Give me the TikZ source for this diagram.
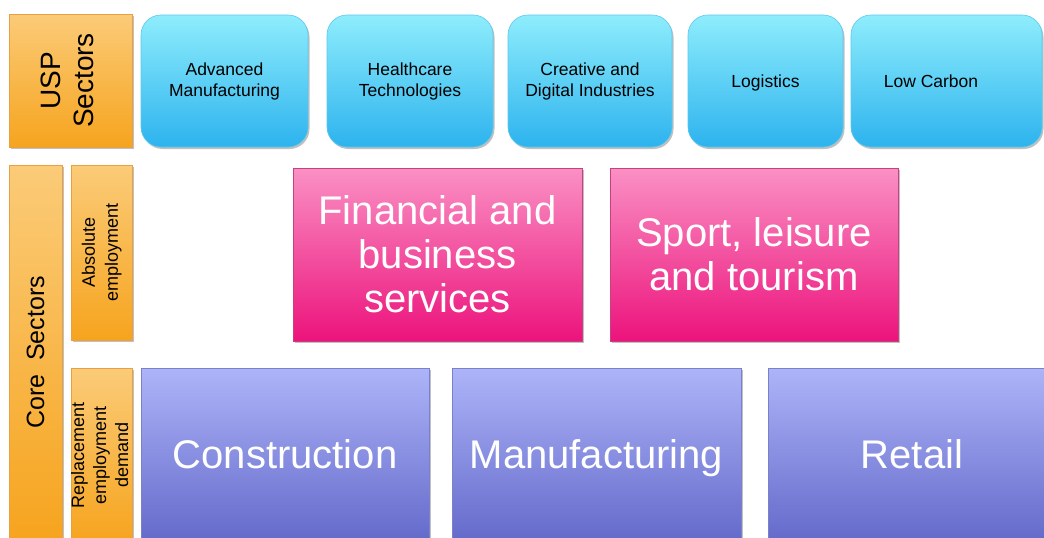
\documentclass[tikz,border=0pt]{standalone}
\usepackage{fontspec}
\setmainfont{Liberation Sans}
\usetikzlibrary{shadows}
\newcommand{\vtext}[1]{\makebox[0pt]{\rotatebox{90}{#1}}}
\begin{document}
\begin{tikzpicture}[x=1pt,y=-1pt,
  box/.style={inner sep=0pt, align=center,
    drop shadow={shadow xshift=1.5pt, shadow yshift=-2pt, opacity=0.35, fill=black!70}},
  orangebox/.style={box, shading=axis, top color=orTop, bottom color=orBot, draw=orEdge, line width=0.6pt},
  bluebox/.style={box, rounded corners=20pt, shading=axis, top color=blTop, bottom color=blBot, draw=blEdge, line width=0.6pt, text=black},
  pinkbox/.style={box, shading=axis, top color=pkTop, bottom color=pkBot, draw=pkEdge, line width=0.6pt, text=white},
  purplebox/.style={box, shading=axis, top color=puTop, bottom color=puBot, draw=puEdge, line width=0.6pt, text=white},
  smalltxt/.style={font=\fontsize{17.5}{21}\selectfont},
  bigtxt/.style={font=\fontsize{40}{44}\selectfont},
]
\definecolor{orTop}{HTML}{FBCB78}
\definecolor{orBot}{HTML}{F6A41E}
\definecolor{orEdge}{HTML}{E8A040}
\definecolor{blTop}{HTML}{8EEDFC}
\definecolor{blBot}{HTML}{2DB3EE}
\definecolor{blEdge}{HTML}{5CC8EE}
\definecolor{pkTop}{HTML}{FA90C4}
\definecolor{pkBot}{HTML}{EC137C}
\definecolor{pkEdge}{HTML}{C8407F}
\definecolor{puTop}{HTML}{AEB4F8}
\definecolor{puBot}{HTML}{6167C8}
\definecolor{puEdge}{HTML}{7B80C8}

\clip (0,0) rectangle (1044,538);
\fill[white] (0,0) rectangle (1044,538);

% orange category boxes
\node[orangebox, minimum width=123pt, minimum height=133pt] (usp) at (70.5,80.5)
  {\vtext{\fontsize{28}{34}\selectfont\begin{tabular}{@{}c@{}}USP\\[-1pt]Sectors\end{tabular}}};
\node[orangebox, minimum width=53pt, minimum height=375pt] (core) at (35.5,352.5)
  {\vtext{\fontsize{25}{30}\selectfont Core\ \ Sectors}};
\node[orangebox, minimum width=61pt, minimum height=175pt] (abs) at (101.5,252.5)
  {\vtext{\fontsize{18}{24}\selectfont\begin{tabular}{@{}c@{}}Absolute\\[-1pt]employment\end{tabular}}};
\node[orangebox, minimum width=61pt, minimum height=174pt] (repl) at (101.5,455)
  {\vtext{\fontsize{18}{23}\selectfont\begin{tabular}{@{}c@{}}Replacement\\[-1pt]employment\\[-1pt]demand\end{tabular}}};

% USP sectors (blue)
\node[bluebox, smalltxt, minimum width=167pt, minimum height=132pt] (adv) at (224.5,81) {Advanced\\Manufacturing};
\node[bluebox, smalltxt, minimum width=166pt, minimum height=132pt] (hlt) at (410,81) {Healthcare\\Technologies};
\node[bluebox, smalltxt, minimum width=164pt, minimum height=132pt] (cre) at (590,81) {Creative and\\Digital Industries};
\node[bluebox, minimum width=155pt, minimum height=132pt] (log) at (765.5,81) {};
\node[smalltxt, inner sep=0pt, text=black, anchor=base] (logt) at (765.5,87) {Logistics};
\node[bluebox, minimum width=191pt, minimum height=132pt] (lowc) at (946.5,81) {};
\node[smalltxt, inner sep=0pt, text=black, anchor=base] (lowct) at (931,87) {Low Carbon};

% absolute employment (pink)
\node[pinkbox, bigtxt, minimum width=289pt, minimum height=173pt] (fin) at (437.5,254.5) {Financial and\\business\\services};
\node[pinkbox, bigtxt, minimum width=288pt, minimum height=173pt] (spt) at (754,254.5) {Sport, leisure\\and tourism};

% replacement demand (purple)
\node[purplebox, minimum width=288pt, minimum height=180pt] (con) at (285,458) {};
\node[purplebox, minimum width=289pt, minimum height=180pt] (man) at (596.5,458) {};
\node[purplebox, minimum width=288pt, minimum height=180pt] (ret) at (912,458) {};
\node[bigtxt, text=white, inner sep=0pt, anchor=base] (cont) at (285,468) {Construction};
\node[bigtxt, text=white, inner sep=0pt, anchor=base] (mant) at (596.5,468) {Manufacturing};
\node[bigtxt, text=white, inner sep=0pt, anchor=base] (rett) at (912,468) {Retail};
\end{tikzpicture}
\end{document}
